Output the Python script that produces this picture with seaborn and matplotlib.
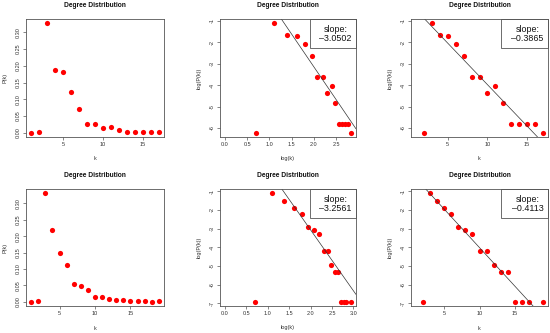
import numpy as np
import pandas as pd
import matplotlib
matplotlib.use("Agg")
import matplotlib.pyplot as plt
import seaborn as sns
from matplotlib.patches import Rectangle

# ---- data ----
k_top = [1, 2, 3, 4, 5, 6, 7, 8, 9, 10, 11, 12, 13, 14, 15, 16, 17]
p_top = [0.000, 0.002, 0.327, 0.187, 0.182, 0.123, 0.071, 0.027, 0.027,
         0.013, 0.018, 0.008, 0.003, 0.003, 0.003, 0.003, 0.002]
k_bot = [1, 2, 3, 4, 5, 6, 7, 8, 9, 10, 11, 12, 13, 14, 15, 16, 17, 18, 19]
p_bot = [0.000, 0.001, 0.331, 0.219, 0.150, 0.111, 0.054, 0.047, 0.037,
         0.015, 0.015, 0.007, 0.005, 0.005, 0.001, 0.001, 0.001, 0.000, 0.001]

slope_loglog_top, icpt_loglog_top = -3.0502, 2.95
slope_semilog_top, icpt_semilog_top = -0.3865, -0.11
slope_loglog_bot, icpt_loglog_bot = -3.2561, 3.45
slope_semilog_bot, icpt_semilog_bot = -0.4113, 0.10

title_text = "Degree Distribution"

sns.set_theme(style="white")
plt.rcParams['font.family'] = ['Liberation Sans', 'DejaVu Sans']

W, H = 550, 333
fig = plt.figure(figsize=(5.5, 3.33), dpi=100)

FRAME = "#555555"
TICKFS = 4.0
MS = 14


def r_lim(vals):
    vals = np.asarray(vals, dtype=float)
    vals = vals[np.isfinite(vals)]
    lo, hi = vals.min(), vals.max()
    r = hi - lo
    return lo - 0.04 * r, hi + 0.04 * r


def make_ax(left, top, right, bottom):
    ax = fig.add_axes([left / W, 1 - bottom / H, (right - left) / W, (bottom - top) / H])
    for s in ax.spines.values():
        s.set_color(FRAME)
        s.set_linewidth(0.6)
    ax.tick_params(axis='both', direction='out', length=2.2, width=0.5, color=FRAME,
                   labelsize=TICKFS, labelcolor="#333333", pad=1.5,
                   bottom=True, left=True)
    ax.tick_params(axis='y', labelrotation=90)
    return ax


def finish(ax, xlabel, ylabel, xticks, xfmt, yticks, yfmt, hpx, vpx):
    ax.set_xticks(xticks)
    ax.set_xticklabels([xfmt.format(v) for v in xticks])
    ax.set_yticks(yticks)
    ax.set_yticklabels([yfmt.format(v).replace('\u2212', '-') for v in yticks])
    for lab in ax.get_yticklabels():
        lab.set_va('center')
    ax.set_xlabel(xlabel, fontsize=TICKFS, color="#333333")
    ax.set_ylabel(ylabel, fontsize=TICKFS, color="#333333")
    ax.xaxis.set_label_coords(0.5, -22 / vpx)
    ax.xaxis.label.set_va('center')
    ax.yaxis.set_label_coords(-21 / hpx, 0.5)
    ax.yaxis.label.set_va('center')
    ax.text(0.5, 1 + 13.5 / vpx, title_text, transform=ax.transAxes,
            ha='center', va='center', fontsize=4.8, fontweight='bold', color="#111111")


def slope_box(ax, slope):
    ax.add_patch(Rectangle((0.66, 0.755), 0.34, 0.245, transform=ax.transAxes,
                           fill=False, edgecolor=FRAME, linewidth=0.6, clip_on=False))
    ax.text(0.85, 0.87, "slope:\n" + "\u2013" + "{:.4f}".format(abs(slope)),
            transform=ax.transAxes, ha='center', va='center', fontsize=6.4,
            linespacing=1.0, color="#111111")


def plot_row(k, p, top, bottom, s_ll, i_ll, s_sl, i_sl, yticks_log):
    k = np.asarray(k, dtype=float)
    p = np.asarray(p, dtype=float)
    pos = p > 0
    logk = np.log(k)
    logp = np.full_like(p, np.nan)
    logp[pos] = np.log(p[pos])
    vpx = bottom - top

    # linear
    ax = make_ax(26, top, 164, bottom)
    sns.scatterplot(x=k, y=p, ax=ax, color='red', s=MS, linewidth=0)
    ax.set_xlim(r_lim(k))
    ax.set_ylim(r_lim(p))
    finish(ax, "k", "P(k)", [5, 10, 15], "{:d}", [0, 0.05, 0.10, 0.15, 0.20, 0.25, 0.30],
           "{:.2f}", 138, vpx)

    # log-log
    ax = make_ax(220, top, 356, bottom)
    sns.scatterplot(x=logk[pos], y=logp[pos], ax=ax, color='red', s=MS, linewidth=0)
    ax.set_ylim(r_lim(logp))
    ax.axline((0, i_ll), slope=s_ll, color="#333333", linewidth=0.5)
    finish(ax, "log(k)", "log(P(k))", [0.0, 0.5, 1.0, 1.5, 2.0, 2.5, 3.0], "{:.1f}",
           yticks_log, "{:d}", 136, vpx)
    ax.set_xlim(r_lim(logk))
    slope_box(ax, s_ll)

    # semi-log
    ax = make_ax(411, top, 548, bottom)
    sns.scatterplot(x=k[pos], y=logp[pos], ax=ax, color='red', s=MS, linewidth=0)
    ax.set_xlim(r_lim(k))
    ax.set_ylim(r_lim(logp))
    ax.axline((0, i_sl), slope=s_sl, color="#333333", linewidth=0.5)
    finish(ax, "k", "log(P(k))", [5, 10, 15], "{:d}", yticks_log, "{:d}", 137, vpx)
    slope_box(ax, s_sl)


plot_row(k_top, p_top, 19, 137, slope_loglog_top, icpt_loglog_top,
         slope_semilog_top, icpt_semilog_top, [-1, -2, -3, -4, -5, -6])
plot_row(k_bot, p_bot, 189, 306, slope_loglog_bot, icpt_loglog_bot,
         slope_semilog_bot, icpt_semilog_bot, [-1, -2, -3, -4, -5, -6, -7])

fig.savefig("out.png", dpi=100, facecolor='white')
